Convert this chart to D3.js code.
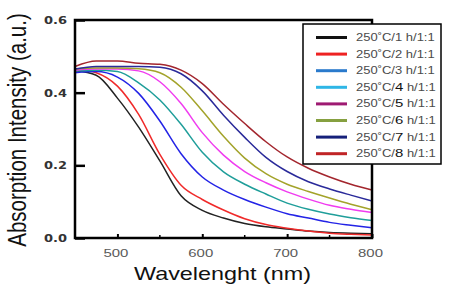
<!DOCTYPE html>
<html>
<head>
<meta charset="utf-8">
<script src="https://cdn.jsdelivr.net/npm/d3@7"></script>
<style>
  body { margin: 0; background: #fff; }
  svg { display: block; font-family: "Liberation Sans", Arial, sans-serif; }
</style>
</head>
<body>
<svg id="chart" width="467" height="286"></svg>
<script>
// wavelengths (nm)
const wavelengths = [450, 475, 500, 525, 550, 575, 600, 625, 650, 675, 700, 725, 750, 775, 800];

// absorption intensity per series, one value per wavelength
const s1h = [0.460, 0.448, 0.385, 0.305, 0.212, 0.116, 0.076, 0.055, 0.040, 0.031, 0.025, 0.019, 0.015, 0.013, 0.012];
const s2h = [0.465, 0.455, 0.418, 0.340, 0.230, 0.145, 0.106, 0.077, 0.053, 0.037, 0.027, 0.019, 0.013, 0.010, 0.008];
const s3h = [0.455, 0.458, 0.443, 0.398, 0.322, 0.232, 0.168, 0.132, 0.106, 0.085, 0.067, 0.055, 0.043, 0.035, 0.028];
const s4h = [0.460, 0.462, 0.458, 0.427, 0.380, 0.313, 0.236, 0.182, 0.148, 0.121, 0.096, 0.079, 0.066, 0.056, 0.048];
const s5h = [0.462, 0.465, 0.465, 0.460, 0.430, 0.370, 0.290, 0.228, 0.183, 0.152, 0.127, 0.107, 0.090, 0.079, 0.070];
const s6h = [0.465, 0.468, 0.468, 0.466, 0.455, 0.415, 0.350, 0.280, 0.220, 0.177, 0.148, 0.128, 0.110, 0.093, 0.078];
const s7h = [0.465, 0.472, 0.472, 0.472, 0.470, 0.452, 0.405, 0.338, 0.277, 0.222, 0.183, 0.155, 0.135, 0.118, 0.102];
const s8h = [0.472, 0.487, 0.487, 0.481, 0.478, 0.462, 0.425, 0.368, 0.315, 0.265, 0.223, 0.192, 0.168, 0.148, 0.132];

const seriesValues = [s1h, s2h, s3h, s4h, s5h, s6h, s7h, s8h];
const hours = ['1', '2', '3', '4', '5', '6', '7', '8'];

const xTicks = [500, 600, 700, 800];
const xMinorTicks = [550, 650, 750];
const yTicks = [0.0, 0.2, 0.4, 0.6];

// curve colours differ a little from the legend swatches in the original
const lineColors = ['#222222', '#f02a2a', '#2323e6', '#1f9e9a', '#f03cf0', '#a3a32a', '#2a2a9a', '#a3262e'];
const swatchColors = ['#111111', '#ee2222', '#2a7acc', '#2fb6e6', '#9e1a72', '#86a040', '#16207a', '#c02426'];

// the source picture is stretched sideways, text gets the same stretch
const stretch = 1.3;

const svg = d3.select('#chart');
const margin = {left: 75, right: 95, top: 20, bottom: 48};
const width = 467 - margin.left - margin.right;
const height = 286 - margin.top - margin.bottom;

const x = d3.scaleLinear().domain([450, 800]).range([margin.left, margin.left + width]);
const y = d3.scaleLinear().domain([0, 0.6]).range([margin.top + height, margin.top]);

const line = d3.line()
    .x((d, i) => x(wavelengths[i]))
    .y(d => y(d))
    .curve(d3.curveMonotoneX);

//curves
svg.append('g')
    .selectAll('path')
    .data(seriesValues)
    .join('path')
    .attr('d', line)
    .attr('fill', 'none')
    .attr('stroke', (d, i) => lineColors[i])
    .attr('stroke-width', 1.5);

//frame
svg.append('rect')
    .attr('x', x(450))
    .attr('y', y(0.6))
    .attr('width', x(800) - x(450))
    .attr('height', y(0) - y(0.6))
    .attr('fill', 'none')
    .attr('stroke', '#000')
    .attr('stroke-width', 2.5);

//x axis
const xAxis = svg.append('g')
    .attr('transform', `translate(0,${y(0)})`)
    .call(d3.axisBottom(x).tickValues(xTicks).tickSizeInner(-4).tickSizeOuter(0).tickFormat(d3.format('d')));
xAxis.select('.domain').remove();
xAxis.selectAll('line').attr('stroke', '#000').attr('stroke-width', 2);
xAxis.selectAll('text')
    .attr('y', null)
    .attr('dy', null)
    .attr('transform', `translate(-2,19) scale(${stretch},1)`)
    .attr('font-size', 11.5)
    .attr('fill', '#5a5a5a')
    .attr('font-family', '"Liberation Sans", Arial, sans-serif');

svg.append('g')
    .selectAll('line')
    .data(xMinorTicks)
    .join('line')
    .attr('x1', d => x(d)).attr('x2', d => x(d))
    .attr('y1', y(0)).attr('y2', y(0) - 3)
    .attr('stroke', '#000')
    .attr('stroke-width', 1.5);

//y axis
const yAxis = svg.append('g')
    .attr('transform', `translate(${x(450)},0)`)
    .call(d3.axisLeft(y).tickValues(yTicks).tickSizeInner(-10).tickSizeOuter(0).tickFormat(d3.format('.1f')));
yAxis.select('.domain').remove();
yAxis.selectAll('line').attr('stroke', '#000').attr('stroke-width', 2.5);
yAxis.selectAll('text')
    .attr('x', null)
    .attr('dy', '0.36em')
    .attr('transform', `translate(-8,0) scale(${stretch},1)`)
    .attr('font-size', 10)
    .attr('font-weight', 'bold')
    .attr('fill', '#333')
    .attr('font-family', '"DejaVu Sans", sans-serif');

//axis titles
svg.append('text')
    .attr('transform', `translate(${x(450) + width / 2 - 1},280) scale(${stretch},1)`)
    .attr('text-anchor', 'middle')
    .attr('font-size', 18)
    .attr('fill', '#111')
    .text('Wavelenght (nm)');

svg.append('text')
    .attr('transform', `translate(26,130) scale(${stretch},1) rotate(-90)`)
    .attr('text-anchor', 'middle')
    .attr('font-size', 20.5)
    .attr('fill', '#111')
    .text('Absorption Intensity (a.u.)');

//legend
const legend = svg.append('g').attr('transform', 'translate(303,24)');
legend.append('rect')
    .attr('width', 138)
    .attr('height', 140)
    .attr('fill', '#fff')
    .attr('stroke', '#000')
    .attr('stroke-width', 1.5);

const rows = legend.selectAll('g.row')
    .data(hours)
    .join('g')
    .attr('class', 'row')
    .attr('transform', (d, i) => `translate(0,${13.5 + i * 16.6})`);

rows.append('line')
    .attr('x1', 13).attr('x2', 44)
    .attr('stroke', (d, i) => swatchColors[i])
    .attr('stroke-width', 3);

const labels = rows.append('text')
    .attr('transform', `translate(53,0) scale(${stretch},1)`)
    .attr('dy', '0.35em')
    .attr('font-size', 10)
    .attr('fill', '#4a4a4a');
labels.append('tspan').text('250˚C/');
labels.append('tspan')
    .attr('fill', (d, i) => i >= 3 ? '#111' : '#4a4a4a')
    .attr('font-size', (d, i) => i >= 3 ? 11.5 : 10)
    .text(d => d);
labels.append('tspan').text(' h/1:1');
</script>
</body>
</html>
